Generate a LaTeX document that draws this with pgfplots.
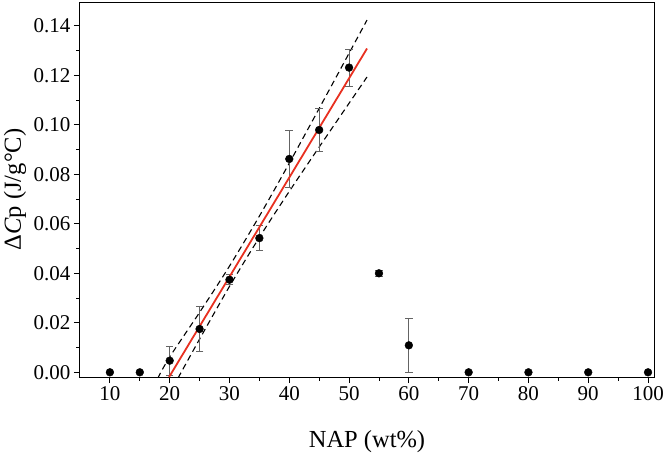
\documentclass[border=0pt]{standalone}
\usepackage{pgfplots}
\pgfplotsset{compat=1.18}
\usepackage{fontspec}
\setmainfont{Liberation Serif}
\definecolor{fitred}{RGB}{232,48,32}
\definecolor{errgray}{RGB}{100,100,100}
\begin{document}
\begin{tikzpicture}
\begin{axis}[
    scale only axis,
    width=574pt,
    height=375pt,
    xmin=5, xmax=101,
    ymin=-0.0019, ymax=0.1496,
    xtick={10,20,...,100},
    ytick={0,0.02,...,0.14},
    minor x tick num=1,
    minor y tick num=1,
    xtick pos=bottom,
    ytick pos=left,
    tick align=outside,
    major tick length=6pt,
    minor tick length=3.5pt,
    axis line style={line width=1pt},
    tick style={line width=0.9pt, black},
    yticklabel style={/pgf/number format/.cd, fixed, fixed zerofill, precision=2},
    /pgf/number format/assume math mode=true,
    ticklabel style={font=\fontsize{21}{24}\selectfont},
    xlabel={NAP (wt\%)},
    ylabel={Δ\textit{C}p (J/g\textdegree C)},
    label style={font=\fontsize{24.5}{28}\selectfont},
    xlabel style={at={(axis description cs:0.5,-0.171)}, anchor=center},
    ylabel style={at={(axis description cs:-0.113,0.5)}, anchor=center},
    clip=true,
]
% fit and confidence band
\addplot[no marks, black, dashed, line width=1.1pt, dash pattern=on 6pt off 4pt, smooth]
coordinates {(18.0,-0.0024)(20,0.0062)(25,0.0242)(30,0.0429)(35,0.0631)(40,0.0845)(45,0.1066)(50,0.1289)(53,0.1423)};
\addplot[no marks, black, dashed, line width=1.1pt, dash pattern=on 6pt off 4pt, smooth]
coordinates {(21.4,-0.0023)(25,0.0134)(30,0.0347)(35,0.0545)(40,0.0731)(45,0.0910)(50,0.1087)(53,0.1193)};
% data with error bars
\addplot[only marks, mark=*, mark size=3.9pt, black,
    error bars/.cd, y dir=both, y explicit,
    error bar style={errgray, line width=0.8pt},
    error mark options={rotate=90, errgray, mark size=3.8pt, line width=0.8pt}]
coordinates {
(20,0.0047) +- (0,0.0058)
(25,0.0175) +- (0,0.0090)
(30,0.0374) +- (0,0.0020)
(35,0.0542) +- (0,0.0051)
(40,0.0862) +- (0,0.0114)
(45,0.0979) +- (0,0.0087)
(50,0.1231) +- (0,0.0074)
(55,0.0400) +- (0,0.0013)
(60,0.0109) +- (0,0.0108)
};
\addplot[only marks, mark=*, mark size=3.9pt, black]
coordinates {(10,0)(15,0)(70,0)(80,0)(90,0)(100,0)};
\addplot[no marks, fitred, line width=1.8pt]
coordinates {(19.9,-0.0019)(53.0,0.1308)};
\end{axis}
\pgfresetboundingbox
\path[use as bounding box] (-80pt,-87pt) rectangle (583pt,377pt);
\end{tikzpicture}
\end{document}
